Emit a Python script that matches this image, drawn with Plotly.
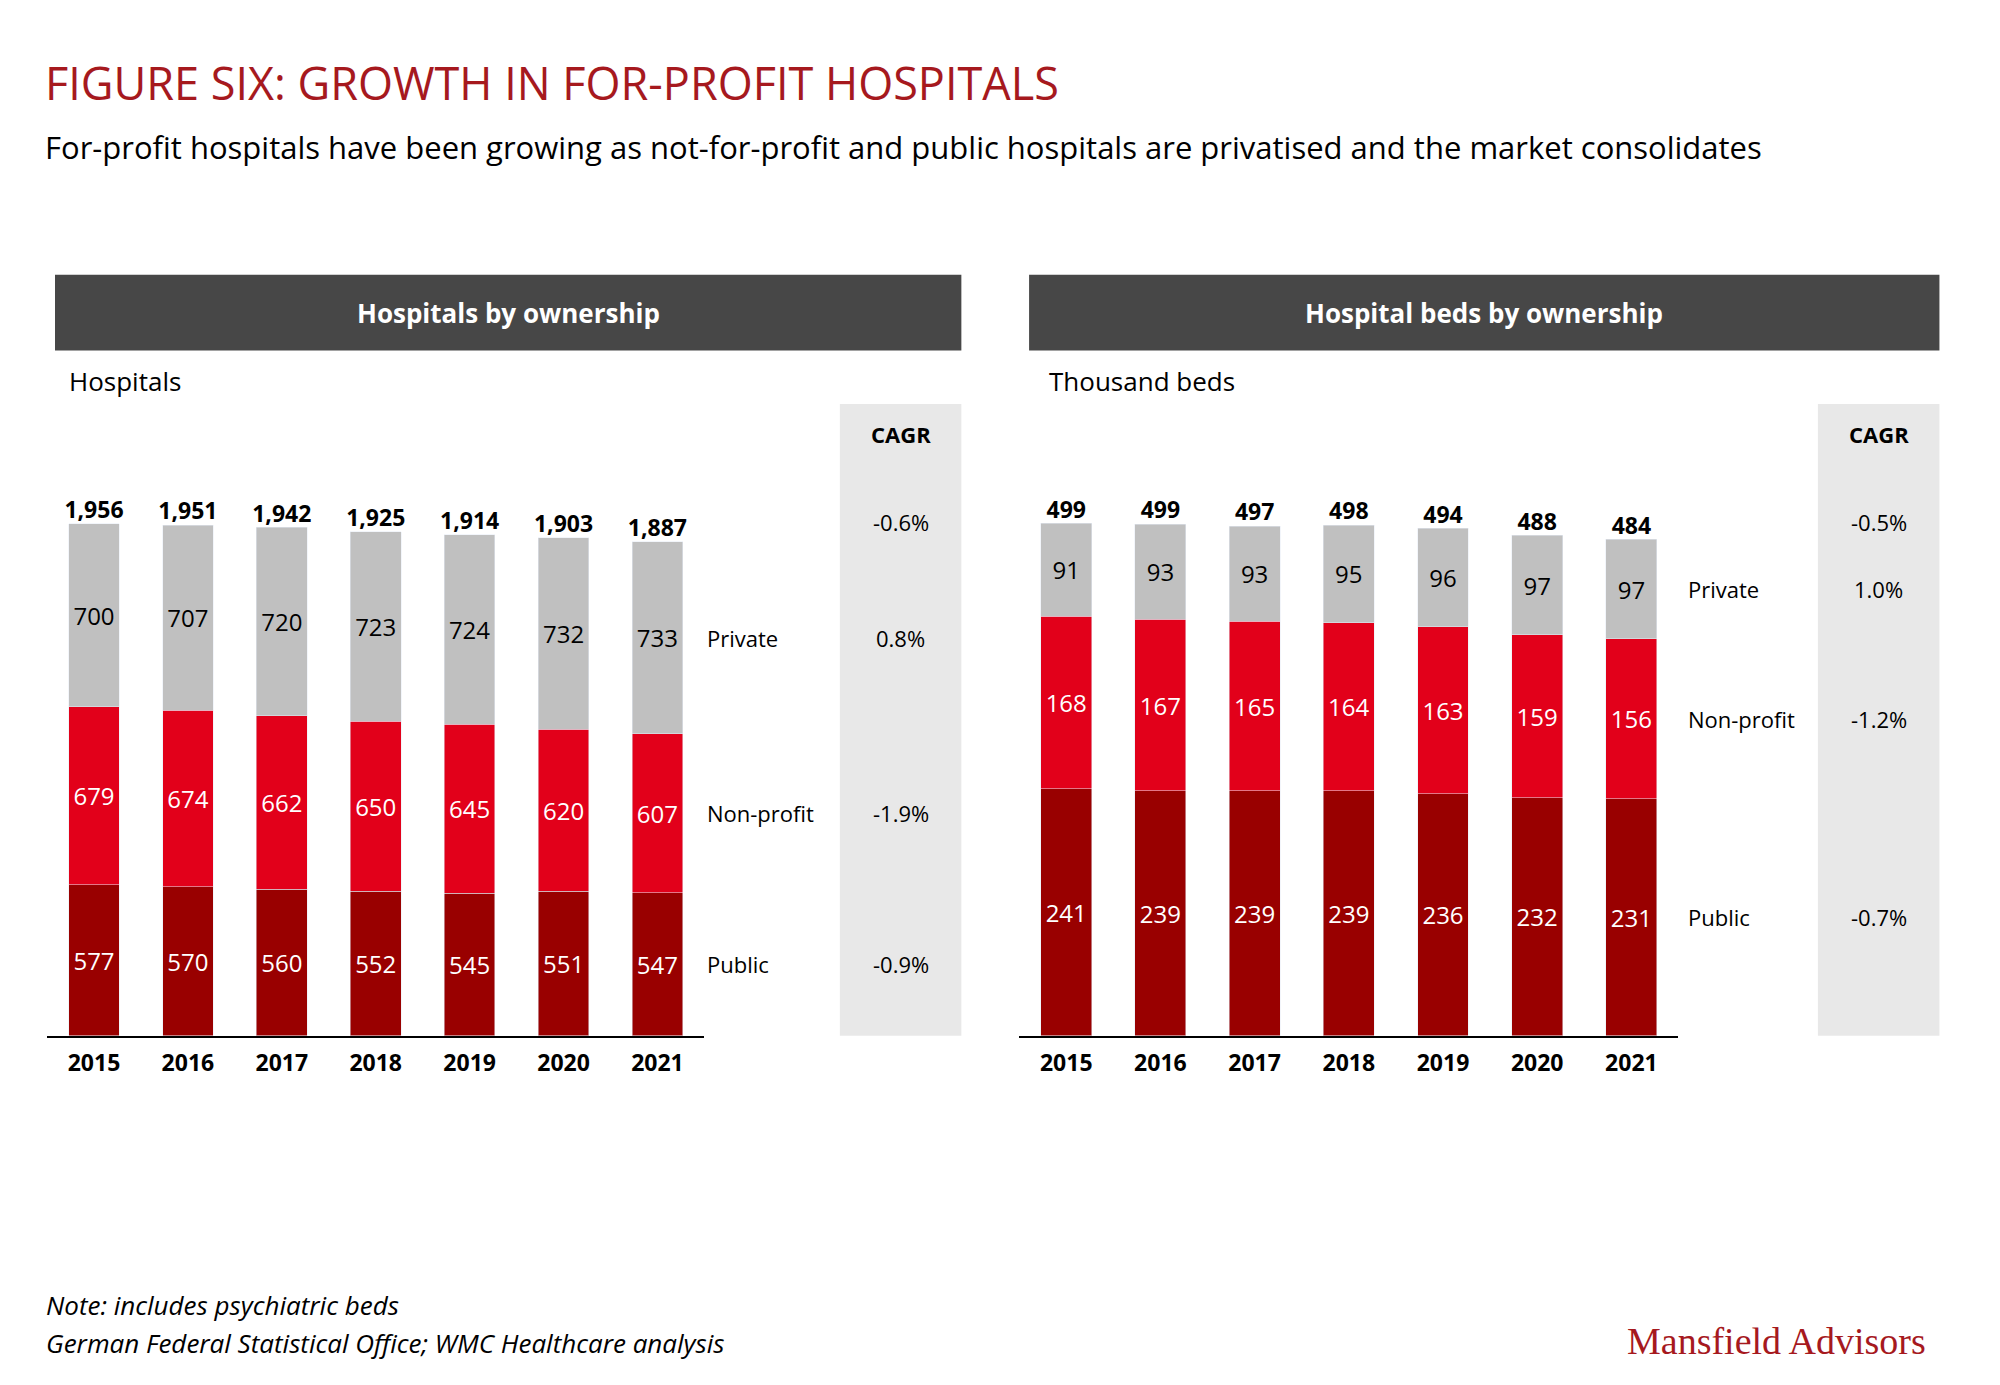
import plotly.graph_objects as go

years = ['2015', '2016', '2017', '2018', '2019', '2020', '2021']

hosp_public = [577, 570, 560, 552, 545, 551, 547]
hosp_nonprofit = [679, 674, 662, 650, 645, 620, 607]
hosp_private = [700, 707, 720, 723, 724, 732, 733]
hosp_total = [1956, 1951, 1942, 1925, 1914, 1903, 1887]
hosp_cagr = ['-0.6%', '0.8%', '-1.9%', '-0.9%']

beds_public = [241, 239, 239, 239, 236, 232, 231]
beds_nonprofit = [168, 167, 165, 164, 163, 159, 156]
beds_private = [91, 93, 93, 95, 96, 97, 97]
beds_total = [499, 499, 497, 498, 494, 488, 484]
beds_cagr = ['-0.5%', '1.0%', '-1.2%', '-0.7%']

series_names = ['Private', 'Non-profit', 'Public']

C_PUB = '#990000'
C_NP = '#e2001a'
C_PRIV = '#c0c0c0'
FONT = 'Open Sans'


# small correction of layout positions (paper coords)
def X(x):
    return x - 0.0045 - (x - 0.028) * 0.004


def Y(y):
    return y + 0.011 - (y - 0.247) * 0.0065


fig = go.Figure()

def add_panel(xa, ya, pub, np_, priv, tot, fmt):
    for vals, col, tc in [(pub, C_PUB, 'white'), (np_, C_NP, 'white'), (priv, C_PRIV, 'black')]:
        fig.add_trace(go.Bar(
            x=years, y=vals, marker_color=col, width=0.54, xaxis=xa, yaxis=ya,
            text=[str(v) for v in vals], textposition='inside', insidetextanchor='middle',
            textangle=0, constraintext='none',
            textfont=dict(color=tc, size=24, family=FONT), showlegend=False,
            hoverinfo='skip'))
    fig.add_trace(go.Scatter(
        x=years, y=tot, mode='text', text=[fmt(v) for v in tot], textposition='top center',
        textfont=dict(size=23, color='black', family=FONT, weight='bold'),
        xaxis=xa, yaxis=ya, showlegend=False, hoverinfo='skip'))

add_panel('x', 'y', hosp_public, hosp_nonprofit, hosp_private, hosp_total, lambda v: f'{v:,}')
add_panel('x2', 'y2', beds_public, beds_nonprofit, beds_private, beds_total, lambda v: str(v))

y_bottom = 0.247
y_top = 0.70
fig.update_layout(
    width=2000, height=1385, margin=dict(l=0, r=0, t=0, b=0),
    plot_bgcolor='white', paper_bgcolor='white', barmode='stack', bargap=0.46,
    font=dict(family=FONT, color='black'),
    xaxis=dict(domain=[X(0.024), X(0.354)], range=[-0.5, 6.5], showline=True, linecolor='black',
               linewidth=2, ticks='outside', ticklen=6, tickcolor='white',
               tickfont=dict(size=23, weight='bold'), fixedrange=True),
    yaxis=dict(domain=[Y(y_bottom), Y(y_top)], range=[0, 2382], visible=False),
    xaxis2=dict(domain=[X(0.512), X(0.843)], range=[-0.5, 6.5], showline=True, linecolor='black',
                linewidth=2, ticks='outside', ticklen=6, tickcolor='white',
                tickfont=dict(size=23, weight='bold'), anchor='y2'),
    yaxis2=dict(domain=[Y(y_bottom), Y(y_top)], range=[0, 608], visible=False, anchor='x2'),
)

shapes = []
ann = []

# title + subtitle
ann.append(dict(xref='paper', yref='paper', x=X(0.022), y=Y(0.94), xanchor='left', yanchor='middle',
                text='FIGURE SIX: GROWTH IN FOR-PROFIT HOSPITALS', showarrow=False,
                font=dict(size=45, color='#a6191e')))
ann.append(dict(xref='paper', yref='paper', x=X(0.022), y=Y(0.893), xanchor='left', yanchor='middle',
                text='For-profit hospitals have been growing as not-for-profit and public hospitals are privatised and the market consolidates',
                showarrow=False, font=dict(size=31)))

panels = [
    ('y', 0.028, 0.483, 0.422, 0.3545, 'Hospitals by ownership', 'Hospitals', 0.034,
     hosp_cagr, hosp_total, hosp_public, hosp_nonprofit, hosp_private),
    ('y2', 0.517, 0.974, 0.913, 0.847, 'Hospital beds by ownership', 'Thousand beds', 0.526,
     beds_cagr, beds_total, beds_public, beds_nonprofit, beds_private),
]
for ya, x0, x1, cx0, lx, head, unit, ux, cagr, tot, pub, np_, priv in panels:
    shapes.append(dict(type='rect', xref='paper', yref='paper', x0=X(x0), x1=X(x1), y0=Y(0.745), y1=Y(0.80),
                       fillcolor='#474747', line_width=0, layer='below'))
    ann.append(dict(xref='paper', yref='paper', x=X((x0 + x1) / 2), y=Y(0.7725), xanchor='center',
                    yanchor='middle', text=head, showarrow=False,
                    font=dict(size=26, color='white', weight='bold')))
    ann.append(dict(xref='paper', yref='paper', x=X(ux), y=Y(0.723), xanchor='left', yanchor='middle',
                    text=unit, showarrow=False, font=dict(size=26)))
    shapes.append(dict(type='rect', xref='paper', yref='paper', x0=X(cx0), x1=X(x1), y0=Y(y_bottom), y1=Y(0.706),
                       fillcolor='#e8e8e8', line_width=0, layer='below'))
    cx = X((cx0 + x1) / 2)
    ann.append(dict(xref='paper', yref='paper', x=cx, y=Y(0.684), xanchor='center', yanchor='middle',
                    text='CAGR', showarrow=False, font=dict(size=22, weight='bold')))
    last = len(years) - 1
    mids = [pub[last] + np_[last] + priv[last] / 2,
            pub[last] + np_[last] / 2,
            pub[last] / 2]
    ann.append(dict(xref='paper', yref='paper', x=cx, y=Y(0.62), xanchor='center', yanchor='middle',
                    text=cagr[0], showarrow=False, font=dict(size=22)))
    for name, ym, cv in zip(series_names, mids, cagr[1:]):
        ann.append(dict(xref='paper', yref=ya, x=X(lx), y=ym, xanchor='left', yanchor='middle',
                        text=name, showarrow=False, font=dict(size=22)))
        ann.append(dict(xref='paper', yref=ya, x=cx, y=ym, xanchor='center', yanchor='middle',
                        text=cv, showarrow=False, font=dict(size=22)))

ann.append(dict(xref='paper', yref='paper', x=0.018, y=0.049, xanchor='left', text='<i>Note: includes psychiatric beds</i>',
                showarrow=False, font=dict(size=26)))
ann.append(dict(xref='paper', yref='paper', x=0.018, y=0.022, xanchor='left',
                text='<i>German Federal Statistical Office; WMC Healthcare analysis</i>',
                showarrow=False, font=dict(size=26)))
ann.append(dict(xref='paper', yref='paper', x=0.960, y=0.021, xanchor='right', text='Mansfield Advisors',
                showarrow=False, font=dict(size=38, color='#a6191e', family='Liberation Serif')))

fig.update_layout(shapes=shapes, annotations=ann)
fig.write_html('out.html')
